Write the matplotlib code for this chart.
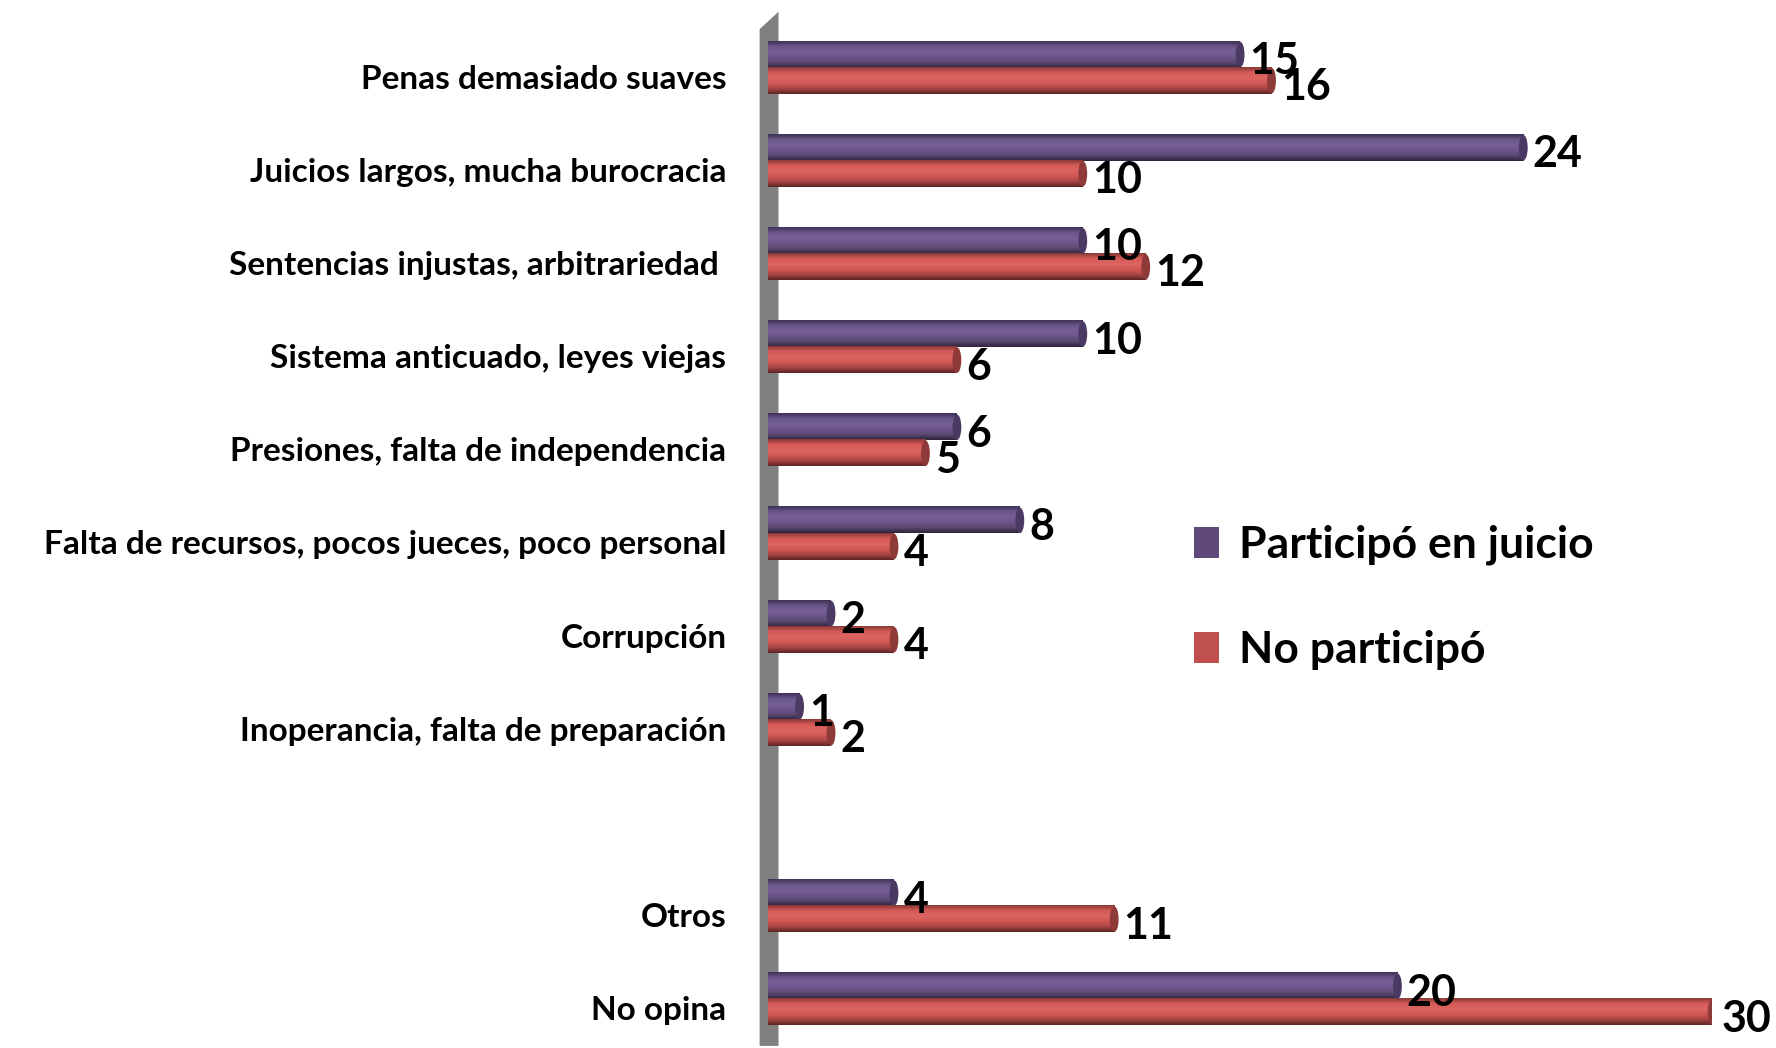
import numpy as np
import matplotlib
matplotlib.use("Agg")
import matplotlib.pyplot as plt
from matplotlib.patches import Ellipse, Polygon, Patch
from matplotlib.colors import to_rgb
from matplotlib.transforms import ScaledTranslation

# data
categorias = ["Penas demasiado suaves",
              "Juicios largos, mucha burocracia",
              "Sentencias injustas, arbitrariedad ",
              "Sistema anticuado, leyes viejas",
              "Presiones, falta de independencia",
              "Falta de recursos, pocos jueces, poco personal",
              "Corrupción",
              "Inoperancia, falta de preparación",
              "",
              "Otros",
              "No opina"]
participo = [15, 24, 10, 10, 6, 8, 2, 1, None, 4, 20]
no_participo = [16, 10, 12, 6, 5, 4, 4, 2, None, 11, 30]
series = ["Participó en juicio", "No participó"]

plt.rcParams['font.family'] = ['Lato', 'DejaVu Sans']

# shading profiles top -> bottom for a cylinder look
perfil_morado = ["#3f3356", "#6b5789", "#765f96", "#6c5689", "#5a4872", "#2f253d"]
perfil_rojo = ["#8a3b39", "#d65a57", "#dc6561", "#d15855", "#a94644", "#5e2524"]
tapa = {"m": "#4a3a63", "r": "#8e3a38"}


def gradiente(perfil, n=40):
    cols = np.array([to_rgb(c) for c in perfil])
    xs = np.linspace(0, 1, len(cols))
    t = np.linspace(0, 1, n)
    g = np.stack([np.interp(t, xs, cols[:, k]) for k in range(3)], axis=1)
    return g[:, None, :]


fig = plt.figure(figsize=(17.76, 10.48), dpi=100)
ax = fig.add_axes([0.4325, 0.002, 0.5315, 0.978])

n = len(categorias)
h = 0.28
grad_m = gradiente(perfil_morado)
grad_r = gradiente(perfil_rojo)

for i in range(n):
    y = n - 1 - i
    for v, off, grad, key in [(participo[i], h / 2, grad_m, "m"),
                              (no_participo[i], -h / 2, grad_r, "r")]:
        if v is None:
            continue
        yc = y + off
        ax.imshow(grad, extent=[0, v, yc - h / 2, yc + h / 2],
                  aspect='auto', origin='upper', zorder=2, interpolation='bilinear')
        ax.add_patch(Ellipse((v, yc), 0.28, h * 0.98, facecolor=tapa[key],
                             edgecolor='none', zorder=3))
        ax.text(v + 0.3, yc - 0.07, str(v), fontsize=31, fontweight='bold',
                ha='left', va='center', zorder=5, clip_on=False)

ax.set_xlim(0, 30)
ax.set_ylim(-0.5, n - 0.5)
ax.set_aspect('auto')
ax.set_yticks(np.arange(n))
ax.set_yticklabels(categorias[::-1], fontsize=24, fontweight='bold')
ax.tick_params(axis='y', length=0, pad=30)
for lbl in ax.get_yticklabels():
    lbl.set_transform(lbl.get_transform() + ScaledTranslation(0, -0.09, fig.dpi_scale_trans))
ax.set_xticks([])
for s in ax.spines.values():
    s.set_visible(False)

# grey wall on the left
pared = Polygon([(-0.009, 0.0), (0.011, 0.0), (0.011, 1.009), (-0.009, 0.992)],
                closed=True, transform=ax.transAxes, facecolor="#808080",
                edgecolor='none', clip_on=False, zorder=1)
ax.add_patch(pared)

handles = [Patch(facecolor="#604a7b"), Patch(facecolor="#c0504d")]
fig.legend(handles, series, loc='center left', bbox_to_anchor=(0.65, 0.43),
           frameon=False, prop={'weight': 'bold', 'size': 32},
           handlelength=0.55, handleheight=0.7, handletextpad=0.45, labelspacing=1.45)

fig.savefig("out.png", dpi=100)
